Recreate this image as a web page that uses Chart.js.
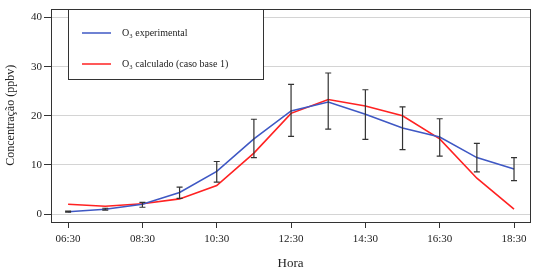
<!DOCTYPE html>
<html><head><meta charset="utf-8">
<script src="https://cdn.jsdelivr.net/npm/chart.js@4/dist/chart.umd.min.js"></script>
<style>html,body{margin:0;padding:0;background:#fff}#w{width:538px;height:275px}</style>
</head><body><div id="w"><canvas id="c"></canvas></div>
<script>
const categories = ['06:30','07:30','08:30','09:30','10:30','11:30','12:30','13:30','14:30','15:30','16:30','17:30','18:30'];
const xTickIdx = [0,2,4,6,8,10,12];
const yTicks = [0,10,20,30,40];
const experimental = [0.5,1.0,2.0,4.4,8.7,15.3,21.0,22.8,20.3,17.5,15.7,11.5,9.2];
const errLow  = [0.4,0.8,1.4,3.2,6.5,11.5,15.8,17.3,15.2,13.1,11.8,8.6,6.8];
const errHigh = [0.6,1.2,2.4,5.5,10.7,19.3,26.4,28.7,25.3,21.8,19.4,14.4,11.5];
const calculado = [2.0,1.6,2.1,3.1,5.8,12.4,20.5,23.3,22.0,20.0,15.3,7.3,1.0];
const labels = ['O\u2083 experimental','O\u2083 calculado (caso base 1)'];

const FONT = "'Liberation Serif','DejaVu Serif',serif";
const BLUE = '#3f58c4', RED = '#ff2222';

const errorBars = {
  id:'errorBars',
  afterDatasetsDraw(chart){
    const {ctx, scales:{x,y}} = chart;
    ctx.save();
    ctx.strokeStyle = '#333'; ctx.lineWidth = 1.2;
    categories.forEach((c,i)=>{
      const px = x.getPixelForValue(i);
      const y1 = y.getPixelForValue(errLow[i]), y2 = y.getPixelForValue(errHigh[i]);
      ctx.beginPath();
      ctx.moveTo(px,y1); ctx.lineTo(px,y2);
      ctx.moveTo(px-3,y1); ctx.lineTo(px+3,y1);
      ctx.moveTo(px-3,y2); ctx.lineTo(px+3,y2);
      ctx.stroke();
    });
    ctx.restore();
  }
};
const boxAndLegend = {
  id:'boxAndLegend',
  afterDraw(chart){
    const {ctx, chartArea:a} = chart;
    ctx.save();
    ctx.strokeStyle = '#333'; ctx.lineWidth = 1;
    ctx.strokeRect(Math.round(a.left)+0.5, Math.round(a.top)+0.5, Math.round(a.right-a.left), Math.round(a.bottom-a.top));
    // legend
    const lx = 68.5, ly = 9.5, lw = 195, lh = 70;
    ctx.fillStyle = '#fff'; ctx.fillRect(lx,ly,lw,lh);
    ctx.strokeRect(lx,ly,lw,lh);
    const ys = [33, 64];
    ctx.font = "10px " + FONT; ctx.textBaseline = 'middle'; ctx.fillStyle = '#222';
    chart.data.datasets.forEach((d,i)=>{
      ctx.strokeStyle = d.borderColor; ctx.lineWidth = 1.5;
      ctx.beginPath(); ctx.moveTo(82, ys[i]); ctx.lineTo(111, ys[i]); ctx.stroke();
      ctx.fillText(d.label, 122, ys[i]);
    });
    ctx.restore();
  }
};

new Chart(document.getElementById('c'), {
  type:'line',
  data:{
    datasets:[
      {label:labels[0], data:experimental.map((v,i)=>({x:i,y:v})), borderColor:BLUE, borderWidth:1.6, pointRadius:0, tension:0, fill:false},
      {label:labels[1], data:calculado.map((v,i)=>({x:i,y:v})), borderColor:RED, borderWidth:1.6, pointRadius:0, tension:0, fill:false}
    ]
  },
  options:{
    responsive:true, maintainAspectRatio:false, animation:false,
    layout:{padding:{left:0,right:8,top:6,bottom:0}},
    plugins:{legend:{display:false}, tooltip:{enabled:false}},
    scales:{
      x:{type:'linear', min:-0.46, max:12.43,
        afterBuildTicks(ax){ ax.ticks = xTickIdx.map(v=>({value:v})); },
        afterFit(ax){ ax.height = 53; },
        grid:{drawOnChartArea:false, tickLength:6, tickColor:'#333'},
        border:{display:false},
        ticks:{padding:5, color:'#222', font:{family:FONT, size:11}, maxRotation:0, autoSkip:false,
          callback:(v)=>categories[v]},
        title:{display:true, text:'Hora', color:'#222', font:{family:FONT, size:13}, padding:{top:6,bottom:4}}
      },
      y:{min:-1.6, max:41.8,
        afterBuildTicks(ax){ ax.ticks = yTicks.map(v=>({value:v})); },
        afterFit(ax){ ax.width = 51; },
        grid:{color:'#d4d4d4', borderDash:[1,2], tickBorderDash:[], tickColor:'#333', tickLength:7, lineWidth:1},
        border:{display:false},
        ticks:{padding:2, color:'#222', font:{family:FONT, size:11}},
        title:{display:true, text:'Concentração (ppbv)', color:'#222', font:{family:FONT, size:12}, padding:{top:4,bottom:4}}
      }
    }
  },
  plugins:[errorBars, boxAndLegend]
});
</script></body></html>
